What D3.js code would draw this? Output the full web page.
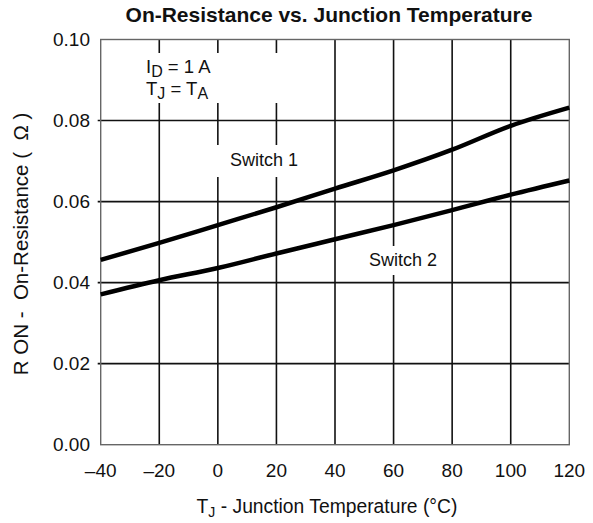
<!DOCTYPE html>
<html>
<head>
<meta charset="utf-8">
<script src="https://cdn.jsdelivr.net/npm/d3@7"></script>
<style>
  body { margin: 0; background: #fff; }
  svg text { font-family: "Liberation Sans", Arial, sans-serif; fill: #111; white-space: pre; }
</style>
</head>
<body>
<div id="chart"></div>
<script>
// data
const temps = [-40, -20, 0, 20, 40, 60, 80, 100, 120];
const switch1 = [0.0456, 0.0498, 0.0542, 0.0586, 0.0632, 0.0677, 0.0728, 0.0787, 0.0832];
const switch2 = [0.0371, 0.0406, 0.0436, 0.0472, 0.0507, 0.0542, 0.0579, 0.0617, 0.0652];
const xTicks = [-40, -20, 0, 20, 40, 60, 80, 100, 120];
const yTicks = [0, 0.02, 0.04, 0.06, 0.08, 0.10];

const width = 593, height = 523;
const margin = { top: 39.5, right: 23.7, bottom: 78.3, left: 100.7 };

const svg = d3.select("#chart").append("svg")
    .attr("width", width)
    .attr("height", height);

const x = d3.scaleLinear().domain([-40, 120]).range([margin.left, width - margin.right]);
const y = d3.scaleLinear().domain([0, 0.10]).range([height - margin.bottom, margin.top]);

// grid
const grid = svg.append("g").attr("stroke", "#111").attr("stroke-width", 1.6);
grid.selectAll("line.v").data(xTicks.slice(1, -1)).join("line")
    .attr("x1", d => x(d)).attr("x2", d => x(d))
    .attr("y1", y(0)).attr("y2", y(0.10));
grid.selectAll("line.h").data(yTicks.slice(1, -1)).join("line")
    .attr("x1", x(-40) - 3).attr("x2", x(120))
    .attr("y1", d => y(d)).attr("y2", d => y(d));

// frame
svg.append("rect")
    .attr("x", x(-40)).attr("y", y(0.10))
    .attr("width", x(120) - x(-40)).attr("height", y(0) - y(0.10))
    .attr("fill", "none").attr("stroke", "#666").attr("stroke-width", 1.4);

// white boxes that break the grid behind the notes
const masks = [
    [150, 53, 140, 50],
    [213, 145, 88, 32],
    [364, 246, 80, 29]
];
svg.selectAll("rect.mask").data(masks).join("rect")
    .attr("x", d => d[0]).attr("y", d => d[1])
    .attr("width", d => d[2]).attr("height", d => d[3])
    .attr("fill", "#fff");

// curves
const line = d3.line()
    .x((d, i) => x(temps[i]))
    .y(d => y(d))
    .curve(d3.curveMonotoneX);

svg.selectAll("path.curve").data([switch1, switch2]).join("path")
    .attr("d", line)
    .attr("fill", "none")
    .attr("stroke", "#000")
    .attr("stroke-width", 4.5);

// tick labels
svg.selectAll("text.ytick").data(yTicks).join("text")
    .attr("x", 90).attr("y", d => y(d) + 6.5)
    .attr("text-anchor", "end")
    .attr("font-size", 19)
    .text(d => d3.format(".2f")(d));

svg.selectAll("text.xtick").data(xTicks).join("text")
    .attr("x", d => x(d)).attr("y", 477)
    .attr("text-anchor", "middle")
    .attr("font-size", 19)
    .text(d => d < 0 ? "\u2013" + Math.abs(d) : d);

// title
svg.append("text")
    .attr("x", 329).attr("y", 22)
    .attr("text-anchor", "middle")
    .attr("font-size", 21)
    .attr("font-weight", "bold")
    .text("On-Resistance vs. Junction Temperature");

// axis titles
svg.append("text")
    .attr("transform", "translate(28,244) rotate(-90)")
    .attr("text-anchor", "middle")
    .attr("font-size", 20.5)
    .text("R ON -  On-Resistance (  \u03A9 )");

const xt = svg.append("text")
    .attr("x", 327).attr("y", 513)
    .attr("text-anchor", "middle")
    .attr("font-size", 19.3);
xt.append("tspan").text("T");
xt.append("tspan").attr("font-size", 14).attr("dy", 4).text("J");
xt.append("tspan").attr("dy", -4).text(" - Junction Temperature (\u00B0C)");

// notes
const n1 = svg.append("text").attr("x", 146).attr("y", 73).attr("font-size", 18.5);
n1.append("tspan").text("I");
n1.append("tspan").attr("font-size", 16).attr("dy", 4).text("D");
n1.append("tspan").attr("dy", -4).text(" = 1 A");

const n2 = svg.append("text").attr("x", 146).attr("y", 95).attr("font-size", 18.5);
n2.append("tspan").text("T");
n2.append("tspan").attr("font-size", 16).attr("dy", 4).text("J");
n2.append("tspan").attr("dy", -4).text(" = T");
n2.append("tspan").attr("font-size", 16).attr("dy", 4).text("A");

svg.append("text").attr("x", 230).attr("y", 166).attr("font-size", 18).text("Switch 1");
svg.append("text").attr("x", 369).attr("y", 266).attr("font-size", 18).text("Switch 2");
</script>
</body>
</html>
